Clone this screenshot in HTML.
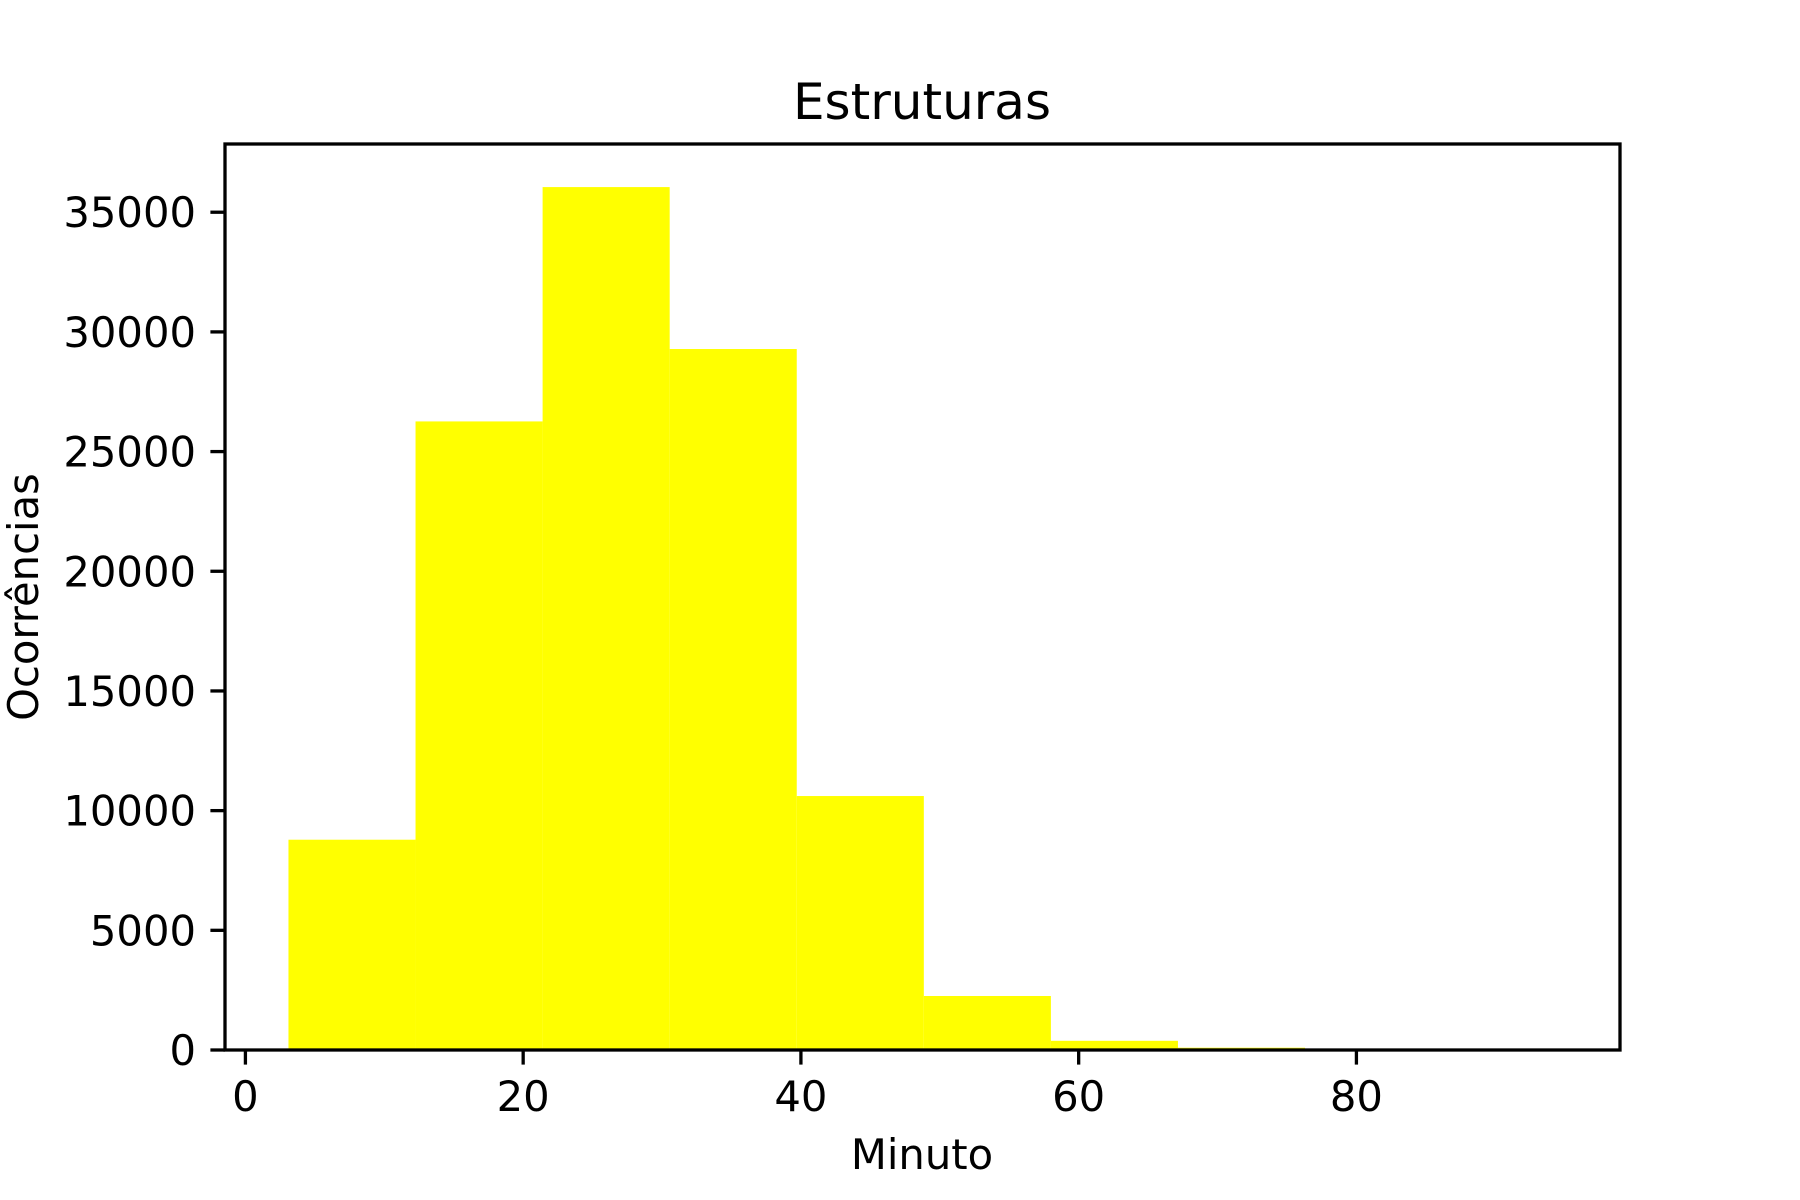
<!DOCTYPE html>
<html><head><meta charset="utf-8"><style>
html,body{margin:0;padding:0;background:#fff;}
svg{display:block;font-family:"DejaVu Sans","Liberation Sans",sans-serif;}
</style></head><body>
<svg id="chart" width="1800" height="1200" viewBox="0 0 1800 1200">
<rect x="0" y="0" width="1800" height="1200" fill="#fff"/>
<g id="bars"></g>
<g id="axes"></g>
<text x="922" y="119" font-size="50" text-anchor="middle" fill="#000">Estruturas</text>
<text x="922" y="1169" font-size="41.7" text-anchor="middle" fill="#000">Minuto</text>
<text transform="translate(38,597) rotate(-90)" font-size="41.7" text-anchor="middle" fill="#000">Ocorrências</text>
</svg>
<script>
const binStart = 3.1;
const binWidth = 9.15;
const counts = [8785, 26260, 36050, 29285, 10610, 2256, 384, 96, 10, 3];
const xTicks = [0, 20, 40, 60, 80];
const yTicks = [0, 5000, 10000, 15000, 20000, 25000, 30000, 35000];

const L = 225, R = 1620, T = 144, B = 1050;
const xMin = -1.47, xMax = 98.98, yMin = 0, yMax = 37850;
function xs(v){ return L + (v - xMin) / (xMax - xMin) * (R - L); }
function ys(v){ return B - (v - yMin) / (yMax - yMin) * (B - T); }
const NS = "http://www.w3.org/2000/svg";
const bars = document.getElementById('bars');
const axes = document.getElementById('axes');

counts.forEach((c, i) => {
  const x0 = xs(binStart + i * binWidth), x1 = xs(binStart + (i + 1) * binWidth);
  const r = document.createElementNS(NS, 'rect');
  r.setAttribute('x', x0); r.setAttribute('y', ys(c));
  r.setAttribute('width', x1 - x0); r.setAttribute('height', B - ys(c));
  r.setAttribute('fill', '#ffff00');
  
  
  bars.appendChild(r);
});

const frame = document.createElementNS(NS, 'rect');
frame.setAttribute('x', L); frame.setAttribute('y', T);
frame.setAttribute('width', R - L); frame.setAttribute('height', B - T);
frame.setAttribute('fill', 'none'); frame.setAttribute('stroke', '#000'); frame.setAttribute('stroke-width', '3.3');


axes.appendChild(frame);

xTicks.forEach(v => {
  const x = xs(v);
  const l = document.createElementNS(NS, 'line');
  l.setAttribute('x1', x); l.setAttribute('x2', x); l.setAttribute('y1', B); l.setAttribute('y2', B + 14.6);
  l.setAttribute('stroke', '#000'); l.setAttribute('stroke-width', '3.3');
  
  
  axes.appendChild(l);
  const t = document.createElementNS(NS, 'text');
  t.setAttribute('x', x); t.setAttribute('y', 1111);
  t.setAttribute('font-size', '41.7'); t.setAttribute('text-anchor', 'middle');
  t.textContent = v;
  
  
  axes.appendChild(t);
});

yTicks.forEach(v => {
  const y = ys(v);
  const l = document.createElementNS(NS, 'line');
  l.setAttribute('x1', L - 14.6); l.setAttribute('x2', L); l.setAttribute('y1', y); l.setAttribute('y2', y);
  l.setAttribute('stroke', '#000'); l.setAttribute('stroke-width', '3.3');
  
  
  axes.appendChild(l);
  const t = document.createElementNS(NS, 'text');
  t.setAttribute('x', 196); t.setAttribute('y', y + 15);
  t.setAttribute('font-size', '41.7'); t.setAttribute('text-anchor', 'end');
  t.textContent = v;
  
  
  axes.appendChild(t);
});
</script>
</body></html>
